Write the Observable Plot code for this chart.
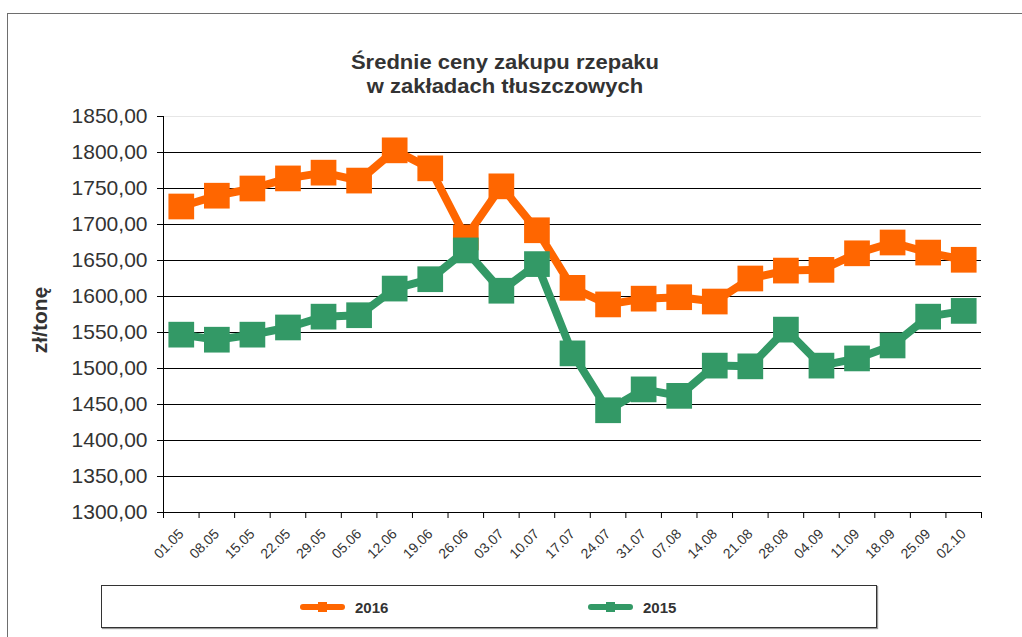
<!DOCTYPE html>
<html>
<head>
<meta charset="utf-8">
<script src="https://cdn.jsdelivr.net/npm/d3@7"></script>
<script src="https://cdn.jsdelivr.net/npm/@observablehq/plot@0.6"></script>
<style>
  html, body { margin: 0; padding: 0; background: #fff; }
  #wrap { position: relative; width: 1022px; height: 637px; overflow: hidden; font-family: "Liberation Sans", Arial, sans-serif; }
  #frame { position: absolute; left: 7px; top: 13px; width: 1100px; height: 700px; border: 1.5px solid #6e6e6e; box-sizing: border-box; }
  #title { position: absolute; left: 0; width: 1010px; top: 50px; text-align: center; font-weight: bold; font-size: 20px; line-height: 24px; color: #333; transform: scaleX(1.1); transform-origin: 505px 0; }
  #ylabel { position: absolute; left: 40px; top: 320px; transform: translate(-50%, -50%) rotate(-90deg); font-weight: bold; font-size: 21px; color: #333; white-space: nowrap; }
  #legend { position: absolute; left: 101px; top: 585px; width: 776px; height: 43px; border: 1px solid #333; box-sizing: border-box; box-shadow: 1px 1px 1px #999; background: #fff; }
  .item { position: absolute; top: 11px; height: 20px; display: flex; align-items: center; font-weight: bold; font-size: 15px; color: #333; }
  .sw { position: relative; width: 45px; height: 6px; border-radius: 3px; margin-right: 10px; }
  .sw i { position: absolute; left: 18px; top: -2px; width: 9px; height: 10px; }
  #chart { position: absolute; left: 0; top: 0; }
</style>
</head>
<body>
<div id="wrap">
  <div id="frame"></div>
  <div id="chart"></div>
  <div id="title">Średnie ceny zakupu rzepaku<br>w zakładach tłuszczowych</div>
  <div id="ylabel">zł/tonę</div>
  <div id="legend"></div>
</div>
<script>
const categories = ["01.05","08.05","15.05","22.05","29.05","05.06","12.06","19.06","26.06","03.07","10.07","17.07","24.07","31.07","07.08","14.08","21.08","28.08","04.09","11.09","18.09","25.09","02.10"];
const values2016 = [1725,1740,1750,1764,1772,1761,1803,1778,1682,1753,1692,1612,1589,1597,1599,1593,1625,1636,1637,1660,1675,1661,1651];
const values2015 = [1547,1540,1547,1557,1572,1574,1611,1624,1664,1608,1645,1521,1442,1471,1462,1504,1503,1554,1504,1514,1532,1572,1580];
const yTicks = [1300,1350,1400,1450,1500,1550,1600,1650,1700,1750,1800,1850];
const seriesNames = ["2016","2015"];
const seriesColors = ["#FF6600","#339966"];

const d2016 = categories.map((c, i) => ({i, c, v: values2016[i], s: "2016"}));
const d2015 = categories.map((c, i) => ({i, c, v: values2015[i], s: "2015"}));
const bounds = d3.range(categories.length + 1).map(i => i - 0.5);
const fmt = v => v.toFixed(2).replace(".", ",");

const chart = Plot.plot({
  width: 1022, height: 637,
  marginLeft: 163, marginRight: 41, marginTop: 116, marginBottom: 125,
  style: {fontFamily: "'Liberation Sans', Arial, sans-serif", background: "transparent", overflow: "visible"},
  x: {type: "linear", domain: [-0.5, categories.length - 0.5]},
  y: {domain: [1300, 1850]},
  color: {domain: seriesNames, range: seriesColors},
  marks: [
    Plot.ruleY(yTicks.filter(t => t > 1300 && t < 1850), {stroke: "#000", strokeWidth: 1, strokeOpacity: 1}),
    Plot.ruleY([1850], {stroke: "#e6e6e6", strokeWidth: 1}),
    Plot.axisY({ticks: yTicks, tickFormat: fmt, tickSize: 6, tickPadding: 10, fontSize: 21, label: null, stroke: "#000", fill: "#333"}),
    Plot.axisX({ticks: bounds, tickSize: 6, tickFormat: () => "", label: null, stroke: "#000"}),
    Plot.axisX({ticks: d3.range(categories.length), tickFormat: i => categories[i], tickSize: 0, tickPadding: 19, tickRotate: -45, fontSize: 14, label: null, fill: "#333", dx: 0}),
    Plot.ruleX([-0.5], {stroke: "#000", strokeWidth: 1}),
    Plot.ruleY([1300], {stroke: "#000", strokeWidth: 1}),
    Plot.line(d2016, {x: "i", y: "v", stroke: "s", strokeWidth: 8, strokeLinejoin: "round"}),
    Plot.dot(d2016, {x: "i", y: "v", fill: "s", symbol: "square", r: 14.5}),
    Plot.line(d2015, {x: "i", y: "v", stroke: "s", strokeWidth: 8, strokeLinejoin: "round"}),
    Plot.dot(d2015, {x: "i", y: "v", fill: "s", symbol: "square", r: 14.5})
  ]
});
document.getElementById("chart").appendChild(chart);

const legend = document.getElementById("legend");
const legendLeft = [198, 486];
seriesNames.forEach((name, k) => {
  const item = document.createElement("div");
  item.className = "item";
  item.style.left = legendLeft[k] + "px";
  const sw = document.createElement("div");
  sw.className = "sw";
  sw.style.background = seriesColors[k];
  const m = document.createElement("i");
  m.style.background = seriesColors[k];
  sw.appendChild(m);
  item.appendChild(sw);
  const t = document.createElement("span");
  t.textContent = name;
  item.appendChild(t);
  legend.appendChild(item);
});
</script>
</body>
</html>
